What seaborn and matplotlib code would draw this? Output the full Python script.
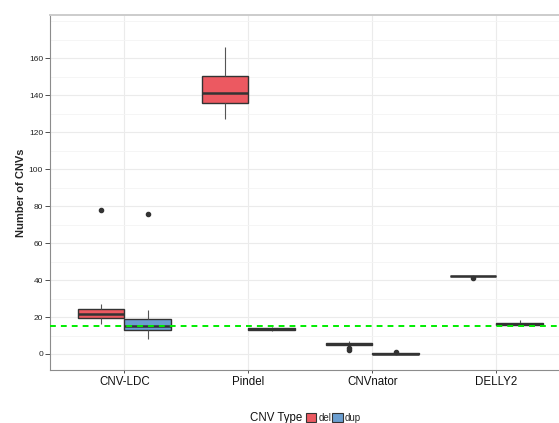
import matplotlib
matplotlib.use("Agg")
import matplotlib.pyplot as plt
from matplotlib.patches import Patch
from matplotlib.ticker import MultipleLocator, FixedLocator
import numpy as np
import pandas as pd
import seaborn as sns

# Per-sample CNV counts for each caller and CNV type
tools = ["CNV-LDC", "Pindel", "CNVnator", "DELLY2"]
cnv_types = ["del", "dup"]

cnvldc_del = [16, 18, 19.3, 21, 21.8, 23, 24.2, 27, 78]
cnvldc_dup = [8, 12, 13, 14, 15.1, 17, 18.7, 24, 76]
pindel_del = [127, 131, 135.8, 139, 141.4, 146, 150.3, 158, 166]
pindel_dup = [12.6, 13.0, 13.2, 13.4, 13.7, 13.9, 14.2, 14.5, 14.8]
cnvnator_del = [2, 3, 5, 5.2, 5.5, 5.7, 6, 6.5, 7]
cnvnator_dup = [0, 0, 0, 0, 0, 0.1, 0.3, 0.3, 1.2]
delly2_del = [41, 42, 42, 42, 42.1, 42.2, 42.3, 42.3, 42.3]
delly2_dup = [15.3, 15.6, 15.8, 16.2, 16.4, 16.7, 17, 17.8, 18.5]

threshold = 15

counts = {
    ("CNV-LDC", "del"): cnvldc_del,
    ("CNV-LDC", "dup"): cnvldc_dup,
    ("Pindel", "del"): pindel_del,
    ("Pindel", "dup"): pindel_dup,
    ("CNVnator", "del"): cnvnator_del,
    ("CNVnator", "dup"): cnvnator_dup,
    ("DELLY2", "del"): delly2_del,
    ("DELLY2", "dup"): delly2_dup,
}
rows = [(t, c, v) for (t, c), vals in counts.items() for v in vals]
df = pd.DataFrame(rows, columns=["Tool", "CNV Type", "Number of CNVs"])

palette = {"del": "#EC5961", "dup": "#6B9ED0"}
edge = "#333333"

sns.set_theme(style="white")
plt.rcParams["font.family"] = ["Liberation Sans", "DejaVu Sans"]

fig = plt.figure(figsize=(5.59, 4.23), dpi=100)
W, H = 559, 423
ax = fig.add_axes([50 / W, (H - 370) / H, 520.8 / W, (370 - 14.7) / H])

sns.boxplot(
    data=df, x="Tool", y="Number of CNVs", hue="CNV Type",
    order=tools, hue_order=cnv_types, palette=palette,
    width=0.75, gap=0, whis=1.5, linecolor=edge, linewidth=1.0,
    saturation=1, dodge=True,
    medianprops=dict(color=edge, linewidth=1.8),
    whiskerprops=dict(color="#555555", linewidth=0.8),
    capprops=dict(linewidth=0),
    flierprops=dict(marker="o", markersize=3.0, markerfacecolor=edge,
                    markeredgecolor=edge),
    legend=False, ax=ax, zorder=3,
)

ax.axhline(threshold, color="#00EE00", linewidth=1.4,
           linestyle=(0, (3.0, 2.6)), zorder=5)

ax.set_xlim(-0.6, 3.6)
ax.set_ylim(-8.66, 183.6)
ax.yaxis.set_major_locator(FixedLocator(np.arange(0, 161, 20)))
ax.yaxis.set_minor_locator(MultipleLocator(10))
ax.set_axisbelow(True)
ax.grid(True, which="major", axis="both", color="#EBEBEB", linewidth=0.8)
ax.grid(True, which="minor", axis="y", color="#F4F4F4", linewidth=0.6)
ax.set_facecolor("white")

for side in ["left", "bottom"]:
    ax.spines[side].set_color("#8C8C8C")
    ax.spines[side].set_linewidth(0.8)
ax.spines["top"].set_color("#CCCCCC")
ax.spines["top"].set_linewidth(1.4)
ax.spines["right"].set_visible(False)

ax.tick_params(axis="y", which="major", length=3.5, width=0.6, color="#333333",
               labelsize=6, labelcolor="#222222", pad=1.5, left=True)
ax.tick_params(axis="y", which="minor", length=0)
ax.tick_params(axis="x", length=2.5, width=0.6, color="#333333",
               labelsize=8.3, labelcolor="#111111", pad=1.5, bottom=True)

ax.set_xlabel("")
ax.set_ylabel("Number of CNVs", fontsize=8, fontweight="bold", labelpad=2)

# Legend along the bottom: title on the left, keys to the right
fig.text(250 / W, 1 - 418 / H, "CNV Type", fontsize=8.3, ha="left",
         va="center", color="#111111")
handles = [Patch(facecolor=palette[c], edgecolor=edge, linewidth=0.8)
           for c in cnv_types]
fig.legend(handles, cnv_types, loc="center left",
           bbox_to_anchor=(306 / W, 1 - 418 / H), ncol=2, frameon=False,
           fontsize=7, handlelength=1.05, handleheight=1.05,
           handletextpad=0.2, columnspacing=0.15, borderpad=0,
           borderaxespad=0)

fig.savefig("out.png", dpi=100)
